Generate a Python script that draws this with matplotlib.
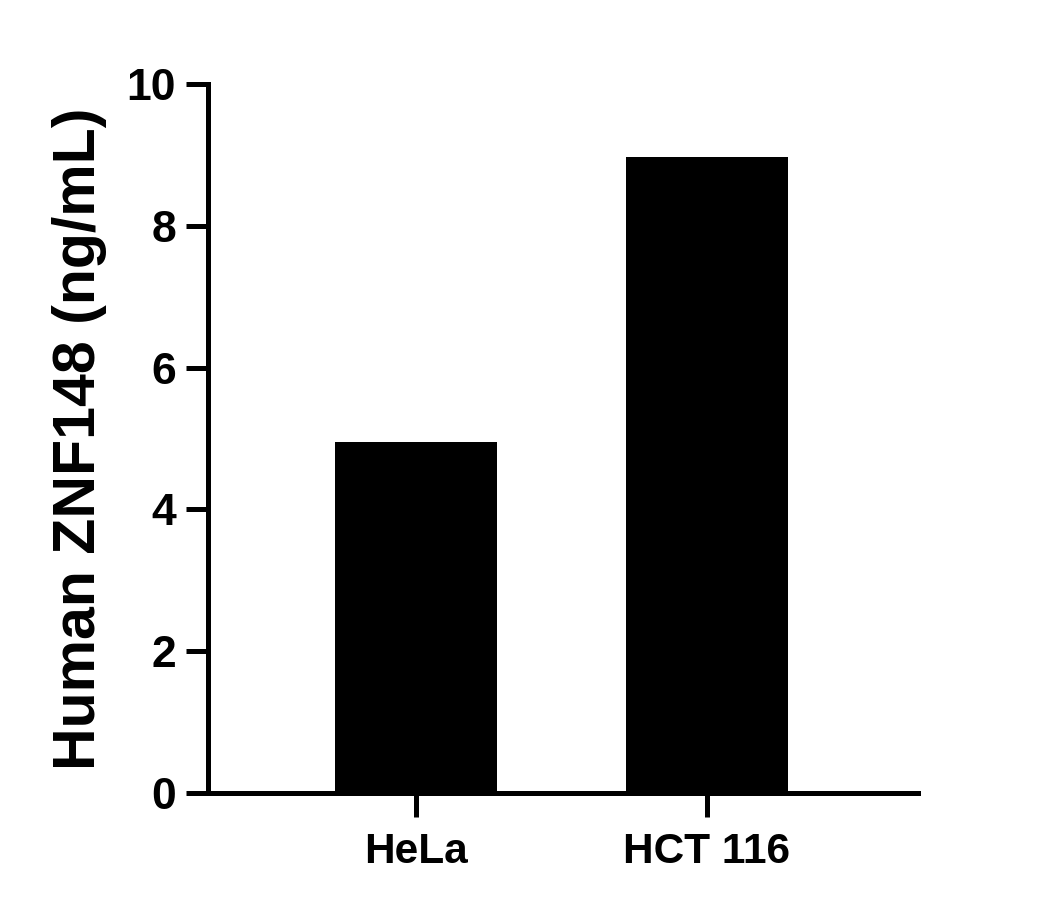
import matplotlib
matplotlib.use("Agg")
import matplotlib.pyplot as plt

# data
cells = ["HeLa", "HCT 116"]
conc = [4.95, 8.97]

plt.rcParams['font.family'] = ['Liberation Sans', 'DejaVu Sans']
plt.rcParams['font.weight'] = 'bold'

fig = plt.figure(figsize=(10.5, 9.1), dpi=100)
ax = fig.add_axes([0.198, 0.1286, 0.676, 0.7791])

x = range(len(cells))
ax.bar(x, conc, width=0.557, color='black')

ax.set_xlim(-0.715, 1.725)
ax.set_ylim(0, 10)
ax.set_yticks([0, 2, 4, 6, 8, 10])
ax.set_xticks(list(x))
ax.set_xticklabels(cells, fontsize=30.5, fontweight='bold')
ax.tick_params(axis='y', labelsize=32, width=3.6, length=16, pad=7)
ax.tick_params(axis='x', width=3.6, length=17, pad=11)
for lab in ax.get_yticklabels():
    lab.set_fontweight('bold')

ax.spines['top'].set_visible(False)
ax.spines['right'].set_visible(False)
ax.spines['left'].set_linewidth(3.6)
ax.spines['bottom'].set_linewidth(3.6)

ax.set_ylabel("Human ZNF148 (ng/mL)", fontsize=42.5, fontweight='bold', labelpad=14)

fig.savefig("out.png", dpi=100)
